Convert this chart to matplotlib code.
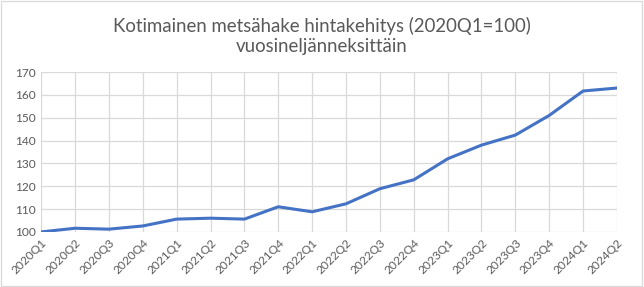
import matplotlib.pyplot as plt
from matplotlib.patches import Rectangle

# vuosineljännekset
quarters = ['2020Q1', '2020Q2', '2020Q3', '2020Q4',
            '2021Q1', '2021Q2', '2021Q3', '2021Q4',
            '2022Q1', '2022Q2', '2022Q3', '2022Q4',
            '2023Q1', '2023Q2', '2023Q3', '2023Q4',
            '2024Q1', '2024Q2']
# hintaindeksi (2020Q1=100)
index_values = [100.0, 101.6, 101.2, 102.6,
                105.6, 106.0, 105.6, 111.0,
                108.8, 112.3, 118.9, 122.8,
                132.0, 138.0, 142.4, 151.0,
                161.7, 163.0]
y_ticks = [100, 110, 120, 130, 140, 150, 160, 170]

plt.rcParams['font.family'] = ['Lato', 'DejaVu Sans']
grey = '#595959'

fig = plt.figure(figsize=(6.44, 2.87), dpi=100)
ax = fig.add_axes([0.064, 0.192, 0.894, 0.557])

x = list(range(len(quarters)))
ax.plot(x, index_values, color='#4472C4', linewidth=2.2, solid_joinstyle='round', zorder=3)

ax.set_xlim(0, len(quarters) - 1)
ax.set_ylim(100, 170)
ax.set_yticks(y_ticks)
ax.set_xticks(x)
ax.set_xticklabels(quarters, rotation=45, ha='right', rotation_mode='anchor')
ax.tick_params(axis='both', length=0, labelsize=8.6, labelcolor=grey, pad=4)
ax.grid(True, color='#d9d9d9', linewidth=0.9)
for s in ax.spines.values():
    s.set_visible(False)

fig.text(0.5, 0.875, 'Kotimainen metsähake hintakehitys (2020Q1=100)\nvuosineljänneksittäin',
         ha='center', va='center', fontsize=13.4, color=grey, linespacing=1.2)

# kaavion reunus
fig.patches.append(Rectangle((0.002, 0.004), 0.995, 0.992, transform=fig.transFigure,
                             fill=False, edgecolor='#d9d9d9', linewidth=0.9))

fig.savefig('out.png', dpi=100)
